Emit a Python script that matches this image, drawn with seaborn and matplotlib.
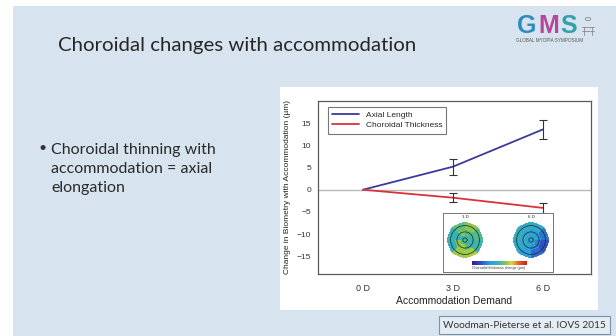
import numpy as np
import pandas as pd
import matplotlib
matplotlib.use("Agg")
import matplotlib.pyplot as plt
from matplotlib.patches import Rectangle, Circle
from matplotlib.lines import Line2D
from matplotlib.colors import LinearSegmentedColormap
import seaborn as sns

# ---- data ----
demand_levels = [0, 3, 6]
demand_labels = ["0 D", "3 D", "6 D"]
axial_length = [0.0, 5.2, 13.6]
axial_err = [0.0, 1.8, 2.1]
choroid_thickness = [0.0, -1.8, -4.1]
choroid_err = [0.0, 0.95, 1.1]
series_names = ["Axial Length", "Choroidal Thickness"]
y_ticks = [-15, -10, -5, 0, 5, 10, 15]

# regional choroidal thickness change maps (rings from centre outward x 8 sectors), µm
map_3d = [
    [-1, 0, -2, -3, 1, 2, -1, 0],
    [0, 2, 6, -2, 7, 8, 1, -2],
    [2, 7, 3, -3, -4, 8, 9, -1],
]
map_6d = [
    [-8, -9, -7, -8, -10, -9, -8, -9],
    [-10, -9, -8, -7, -6, -8, -12, -15],
    [-16, -7, -6, -5, -7, -10, -17, -20],
]
map_titles = ["3 D", "6 D"]
map_label = "Choroidal thickness change (µm)"

title = "Choroidal changes with accommodation"
bullet_lines = ["Choroidal thinning with", "accommodation = axial", "elongation"]
citation = "Woodman-Pieterse et al. IOVS 2015"

W, H = 616, 336
sns.set_style("white")
plt.rcParams["font.family"] = ["Liberation Sans", "DejaVu Sans"]

fig = plt.figure(figsize=(W / 100, H / 100), dpi=100)
fig.patch.set_facecolor("white")


def fx(x):
    return x / W


def fy(y):
    return 1 - y / H


def box(x0, y0, x1, y1):
    return [fx(x0), fy(y1), fx(x1 - x0), (y1 - y0) / H]


# slide background
fig.patches.append(Rectangle((fx(13), 0), 1 - fx(13), fy(6), transform=fig.transFigure,
                             facecolor="#d7e3ee", edgecolor="none", zorder=0))
# white chart panel
fig.patches.append(Rectangle((fx(280), fy(310)), fx(598 - 280), (310 - 87) / H,
                             transform=fig.transFigure, facecolor="white",
                             edgecolor="none", zorder=0.5))

# slide text
fig.text(fx(58), fy(46), title, fontsize=14.7, family=["Lato", "DejaVu Sans"],
         color="#262626", va="center", ha="left")
fig.text(fx(38), fy(148), "•", fontsize=10, family=["Lato", "DejaVu Sans"],
         color="#333333", va="center")
for i, line in enumerate(bullet_lines):
    fig.text(fx(51), fy(150 + 19 * i), line, fontsize=11.5, family=["Lato", "DejaVu Sans"],
             color="#2a2a2a", va="center", ha="left")

# logo
for letter, col, xx in zip("GMS", ["#2f8cc0", "#b6469a", "#33a0a8"], [517, 538, 560]):
    fig.text(fx(xx), fy(26), letter, fontsize=18, fontweight="bold", color=col,
             family=["Liberation Sans"], va="center", ha="left")
fig.text(fx(550), fy(41), "GLOBAL MYOPIA SYMPOSIUM", fontsize=3.3, color="#555555",
         ha="center", va="center")
fig.patches.append(Circle((fx(588), fy(19)), 0.0045, transform=fig.transFigure,
                          facecolor="none", edgecolor="#8a8a8a", linewidth=0.6))
for (x0, y0, x1, y1) in [(582, 27, 594, 27), (584, 27, 584, 35), (592, 27, 592, 35),
                         (582, 31, 594, 31)]:
    fig.lines.append(Line2D([fx(x0), fx(x1)], [fy(y0), fy(y1)], transform=fig.transFigure,
                            color="#8a8a8a", linewidth=0.6))

# citation box
fig.text(fx(443), fy(325), citation, fontsize=7.3, family=["Lato", "DejaVu Sans"],
         color="#333333", va="center", ha="left",
         bbox=dict(boxstyle="square,pad=0.4", facecolor="#e4ecf4", edgecolor="#8090a8",
                   linewidth=0.8))

# ---- main chart ----
ax = fig.add_axes(box(318, 101, 591, 274))
ax.set_zorder(2)
ax.set_facecolor("white")
df = pd.DataFrame({
    "demand": demand_levels * 2,
    "change": axial_length + choroid_thickness,
    "series": [series_names[0]] * 3 + [series_names[1]] * 3,
})
palette = {series_names[0]: "#3b3a9c", series_names[1]: "#d8333a"}
ax.axhline(0, color="#b8b8b8", linewidth=1.0, zorder=1)
sns.lineplot(data=df, x="demand", y="change", hue="series", palette=palette,
             linewidth=1.3, ax=ax, zorder=3)
ax.errorbar(demand_levels[1:], axial_length[1:], yerr=axial_err[1:], fmt="none",
            ecolor="#333333", elinewidth=0.8, capsize=3, capthick=0.8, zorder=4)
ax.errorbar(demand_levels[1:], choroid_thickness[1:], yerr=choroid_err[1:], fmt="none",
            ecolor="#333333", elinewidth=0.8, capsize=3, capthick=0.8, zorder=4)

ax.set_xlim(-1.5, 7.6)
ax.set_ylim(-19, 20)
ax.set_xticks(demand_levels)
ax.set_xticklabels(demand_labels)
ax.set_yticks(y_ticks)
ax.tick_params(axis="both", direction="out", length=3, width=0.7, color="#444444",
               labelsize=6, labelcolor="#333333", pad=2)
ax.tick_params(axis="x", labelsize=6.5, pad=4)
for s in ax.spines.values():
    s.set_color("#5a5a5a")
    s.set_linewidth(0.9)
ax.set_xlabel("Accommodation Demand", fontsize=7.5, color="#222222", labelpad=2)
ax.set_ylabel("Change in Biometry with Accommodation (µm)", fontsize=6, color="#222222",
              labelpad=4)
leg = ax.legend(loc="upper left", bbox_to_anchor=(0.037, 0.965), borderaxespad=0,
                frameon=True, fancybox=False, edgecolor="#555555", fontsize=6,
                handlelength=3.2, borderpad=0.5, labelspacing=0.3, title=None)
leg.get_frame().set_linewidth(0.8)

# ---- inset with regional maps ----
inset = fig.add_axes(box(443, 213, 553, 272))
inset.set_xticks([])
inset.set_yticks([])
inset.set_facecolor("white")
for s in inset.spines.values():
    s.set_color("#777777")
    s.set_linewidth(0.7)
inset.set_zorder(5)

cmap = LinearSegmentedColormap.from_list(
    "thick", [(0.0, "#3a1a8a"), (0.17, "#2f55c8"), (0.33, "#2aa0df"), (0.5, "#3fb8a2"),
              (0.62, "#8cc84a"), (0.72, "#e2d23a"), (0.85, "#e8602c"), (1.0, "#c81e1e")])
vmin, vmax = -30, 30
theta = np.linspace(0, 2 * np.pi, 9)
radii = np.array([0, 0.28, 0.62, 1.0])
for vals, cx, ttl in zip([map_3d, map_6d], [465, 531], map_titles):
    pax = fig.add_axes(box(cx - 19, 222, cx + 19, 258), projection="polar")
    pax.pcolormesh(theta, radii, np.array(vals, dtype=float), cmap=cmap, vmin=vmin,
                   vmax=vmax, shading="flat")
    tt = np.linspace(0, 2 * np.pi, 100)
    for r in [0.12, 0.45, 0.8]:
        pax.plot(tt, np.full_like(tt, r), color="#222222", linewidth=0.5)
    pax.set_ylim(0, 1)
    pax.set_xticks([])
    pax.set_yticks([])
    pax.grid(False)
    pax.spines["polar"].set_visible(False)
    pax.set_zorder(6)
    fig.text(fx(cx), fy(217), ttl, fontsize=3.2, color="#222222", ha="center",
             va="center", zorder=7)

cax = fig.add_axes(box(472, 261, 527, 265))
cb = fig.colorbar(plt.cm.ScalarMappable(cmap=cmap, norm=plt.Normalize(vmin, vmax)),
                  cax=cax, orientation="horizontal")
cb.outline.set_visible(False)
cax.set_xticks([])
cax.set_zorder(6)
fig.text(fx(499), fy(268), map_label, fontsize=2.6, color="#333333", ha="center",
         va="center", zorder=7)

fig.savefig("out.png", dpi=100)
